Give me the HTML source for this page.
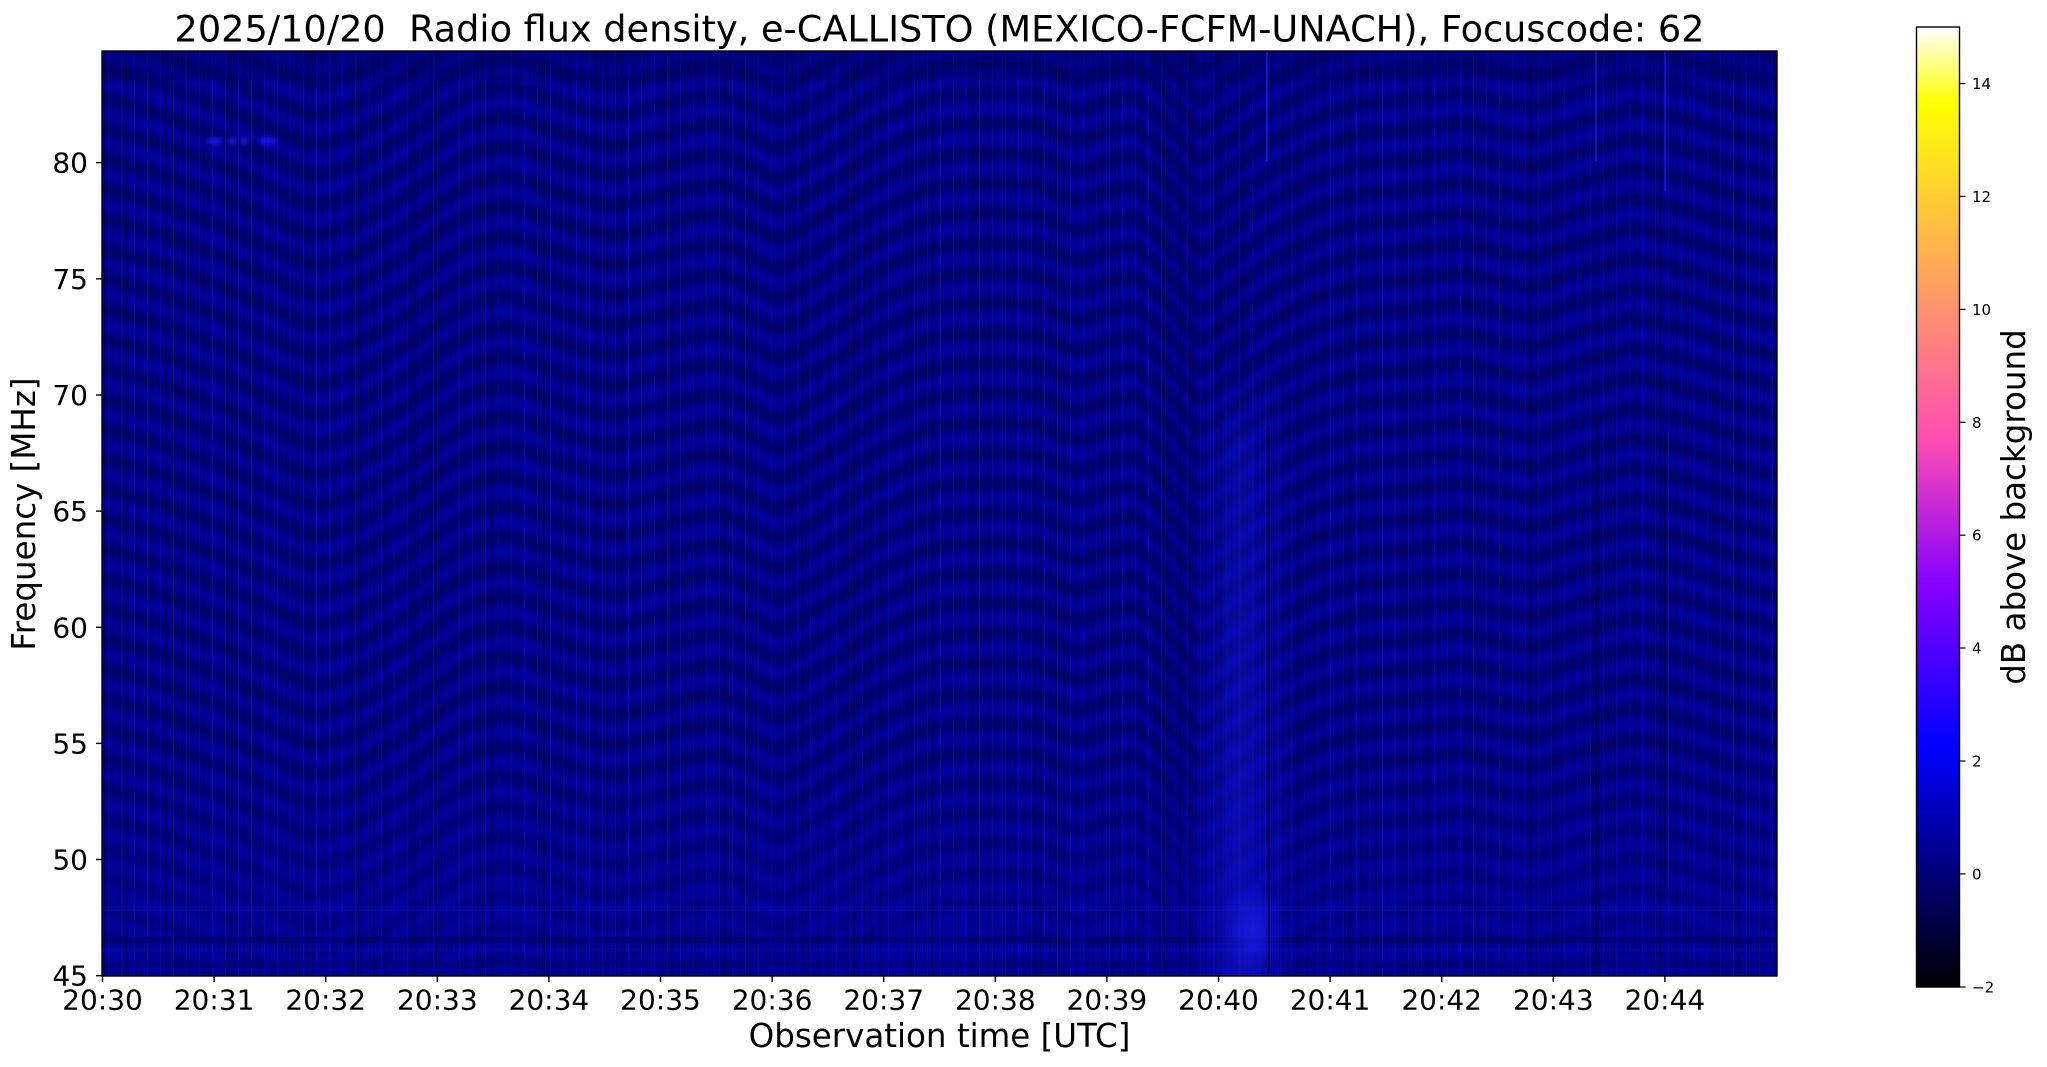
<!DOCTYPE html>
<html>
<head>
<meta charset="utf-8">
<style>
  html,body{margin:0;padding:0;background:#fff;width:2047px;height:1067px;overflow:hidden;}
  svg{display:block;}
</style>
</head>
<body>
<svg width="2047" height="1067" viewBox="0 0 2047 1067" xmlns="http://www.w3.org/2000/svg" xmlns:xlink="http://www.w3.org/1999/xlink" font-family="'DejaVu Sans','Liberation Sans',sans-serif">
  <defs>
    <clipPath id="pc"><rect x="102" y="51" width="1675" height="925"/></clipPath>
    <filter id="bl" x="0" y="0" width="2047" height="1067" filterUnits="userSpaceOnUse"><feGaussianBlur stdDeviation="4"/></filter>
    <filter id="bl3" x="0" y="0" width="2047" height="1067" filterUnits="userSpaceOnUse"><feGaussianBlur stdDeviation="2"/></filter>
    <linearGradient id="cb" x1="0" y1="1" x2="0" y2="0">
      <stop offset="0" stop-color="#000000"/>
      <stop offset="0.25" stop-color="#0000ff"/>
      <stop offset="0.42" stop-color="#8700ff"/>
      <stop offset="0.57" stop-color="#ff4db3"/>
      <stop offset="0.92" stop-color="#ffff00"/>
      <stop offset="1" stop-color="#ffffff"/>
    </linearGradient>
    <linearGradient id="fg" gradientUnits="userSpaceOnUse" x1="0" y1="51" x2="0" y2="976">
      <stop offset="0" stop-color="#999"/>
      <stop offset="0.07" stop-color="#fff"/>
      <stop offset="0.75" stop-color="#eee"/>
      <stop offset="1" stop-color="#444"/>
    </linearGradient>
    <mask id="fm" maskUnits="userSpaceOnUse" x="0" y="0" width="2047" height="1067">
      <rect x="0" y="0" width="2047" height="1067" fill="url(#fg)"/>
    </mask>
    <linearGradient id="glowH" x1="0" y1="0" x2="1" y2="0">
      <stop offset="0" stop-color="#2020ff" stop-opacity="0"/>
      <stop offset="0.45" stop-color="#2020ff" stop-opacity="0.4"/>
      <stop offset="1" stop-color="#2020ff" stop-opacity="0"/>
    </linearGradient>
    <linearGradient id="glowV" x1="0" y1="0" x2="0" y2="1">
      <stop offset="0" stop-color="#fff" stop-opacity="0"/>
      <stop offset="0.15" stop-color="#fff" stop-opacity="0.7"/>
      <stop offset="1" stop-color="#fff" stop-opacity="1"/>
    </linearGradient>
    <radialGradient id="glowB" cx="0.5" cy="0.5" r="0.5">
      <stop offset="0" stop-color="#2424ff" stop-opacity="0.55"/>
      <stop offset="1" stop-color="#2424ff" stop-opacity="0"/>
    </radialGradient>
    <mask id="gm" maskUnits="userSpaceOnUse" x="0" y="0" width="2047" height="1067">
      <rect x="1150" y="360" width="200" height="616" fill="url(#glowV)"/>
    </mask>
    <path id="st" fill="none" stroke="#000040" stroke-width="12" stroke-linejoin="round"
      d="M95,-3 L102,0 L160,16 L220,38 L270,60 L300,73 L313,77 L330,75 L360,64 L400,42 L440,14 L470,-4 L503,-12 L530,-6 L560,5 L600,16 L615,18 L650,10 L690,0 L720,-4 L750,8 L777,22 L800,12 L840,-12 L880,-38 L920,-56 L950,-63 L1000,-65 L1040,-62 L1077,-46 L1105,-56 L1135,-62 L1165,-36 L1200,4 L1230,-18 L1270,-46 L1320,-72 L1360,-84 L1410,-88 L1460,-95 L1500,-86 L1533,-80 L1580,-96 L1633,-110 L1680,-100 L1730,-84 L1777,-72 L1790,-68"/>
    <path id="stb" fill="none" stroke="#000040" stroke-width="12" stroke-linejoin="round"
      d="M1000,-65 L1040,-62 L1077,-46 L1105,-56 L1135,-62 L1165,-36 L1200,4 L1230,-18 L1270,-46 L1320,-72 L1360,-84 L1410,-88 L1460,-95 L1500,-86 L1533,-80 L1580,-96 L1633,-110 L1680,-100 L1730,-84 L1777,-72 L1790,-68"/>
    <path id="stc" fill="none" stroke="#000040" stroke-width="12" stroke-linejoin="round"
      d="M1300,-62 L1320,-72 L1360,-84 L1410,-88 L1460,-95 L1500,-86 L1533,-80 L1580,-96 L1633,-110 L1680,-100 L1730,-84 L1777,-72 L1790,-68"/>
    <pattern id="nz" x="0" y="0" width="31" height="1067" patternUnits="userSpaceOnUse">
      <rect x="2" y="0" width="1" height="1067" fill="#000" opacity=".24"/>
      <rect x="7" y="0" width="1" height="1067" fill="#000" opacity=".14"/>
      <rect x="11" y="0" width="2" height="1067" fill="#000" opacity=".17"/>
      <rect x="17" y="0" width="1" height="1067" fill="#000" opacity=".26"/>
      <rect x="22" y="0" width="1" height="1067" fill="#000" opacity=".12"/>
      <rect x="27" y="0" width="1" height="1067" fill="#000" opacity=".2"/>
    </pattern>
    <pattern id="nz2" x="0" y="0" width="13" height="1067" patternUnits="userSpaceOnUse">
      <rect x="4" y="0" width="1" height="1067" fill="#3030ff" opacity=".14"/>
      <rect x="9" y="0" width="1" height="1067" fill="#000" opacity=".12"/>
    </pattern>
  </defs>

  <rect x="0" y="0" width="2047" height="1067" fill="#fff"/>

  <!-- spectrogram -->
  <g clip-path="url(#pc)">
    <rect x="102" y="51" width="1675" height="925" fill="#00009e"/>
    <g filter="url(#bl)" mask="url(#fm)" opacity="0.58">
      <use xlink:href="#st" href="#st" y="-82"/>
      <use xlink:href="#st" href="#st" y="-52"/>
      <use xlink:href="#st" href="#st" y="-22"/>
      <use xlink:href="#st" href="#st" y="8"/>
      <use xlink:href="#st" href="#st" y="38"/>
      <use xlink:href="#st" href="#st" y="68"/>
      <use xlink:href="#st" href="#st" y="98"/>
      <use xlink:href="#st" href="#st" y="128"/>
      <use xlink:href="#st" href="#st" y="158"/>
      <use xlink:href="#st" href="#st" y="188"/>
      <use xlink:href="#st" href="#st" y="218"/>
      <use xlink:href="#st" href="#st" y="248"/>
      <use xlink:href="#st" href="#st" y="278"/>
      <use xlink:href="#st" href="#st" y="308"/>
      <use xlink:href="#st" href="#st" y="338"/>
      <use xlink:href="#st" href="#st" y="368"/>
      <use xlink:href="#st" href="#st" y="398"/>
      <use xlink:href="#st" href="#st" y="428"/>
      <use xlink:href="#st" href="#st" y="458"/>
      <use xlink:href="#st" href="#st" y="488"/>
      <use xlink:href="#st" href="#st" y="518"/>
      <use xlink:href="#st" href="#st" y="548"/>
      <use xlink:href="#st" href="#st" y="578"/>
      <use xlink:href="#st" href="#st" y="608"/>
      <use xlink:href="#st" href="#st" y="638"/>
      <use xlink:href="#st" href="#st" y="668"/>
      <use xlink:href="#st" href="#st" y="698"/>
      <use xlink:href="#st" href="#st" y="728"/>
      <use xlink:href="#st" href="#st" y="758"/>
      <use xlink:href="#st" href="#st" y="788"/>
      <use xlink:href="#st" href="#st" y="818"/>
      <use xlink:href="#st" href="#st" y="848"/>
      <use xlink:href="#st" href="#st" y="878"/>
      <use xlink:href="#st" href="#st" y="908"/>
      <use xlink:href="#st" href="#st" y="938"/>
      <use xlink:href="#st" href="#st" y="968"/>
      <use xlink:href="#stb" href="#stb" y="998"/>
      <use xlink:href="#stb" href="#stb" y="1028"/>
      <use xlink:href="#stc" href="#stc" y="1058"/>
    </g>
    <!-- vertical noise -->
    <rect x="102" y="51" width="1675" height="925" fill="url(#nz)"/>
    <rect x="102" y="51" width="1675" height="925" fill="url(#nz2)"/>
    <!-- slightly darker top rows -->
    <rect x="102" y="51" width="1675" height="30" fill="#000020" opacity=".15"/>

    <!-- low-frequency horizontal streaks -->
    <rect x="102" y="906" width="1675" height="5" fill="#1a1ad8" opacity=".2"/>
    <rect x="102" y="937" width="1675" height="6" fill="#000020" opacity=".25"/>
    <rect x="102" y="948" width="1675" height="4" fill="#1a1ad8" opacity=".16"/>
    <rect x="102" y="960" width="1675" height="8" fill="#000030" opacity=".15"/>

    <!-- bright dots near 81 MHz -->
    <g fill="#1e1ef0" filter="url(#bl3)" opacity=".8">
      <ellipse cx="215" cy="141" rx="8" ry="4"/>
      <ellipse cx="232" cy="141" rx="5" ry="4"/>
      <ellipse cx="244" cy="141" rx="4" ry="4"/>
      <ellipse cx="268" cy="141" rx="9" ry="4"/>
    </g>

    <!-- burst glow around 20:40:25 -->
    <g mask="url(#gm)">
      <rect x="1190" y="360" width="110" height="616" fill="url(#glowH)"/>
    </g>
    <ellipse cx="1254" cy="930" rx="30" ry="46" fill="url(#glowB)"/>

    <!-- thin vertical lines -->
    <rect x="1266" y="51" width="2" height="110" fill="#2a2aff" opacity=".5"/>
    <rect x="1268" y="427" width="2" height="545" fill="#000010" opacity=".55"/>
    <rect x="1595" y="51" width="2" height="110" fill="#2a2aff" opacity=".45"/>
    <rect x="1595" y="418" width="2" height="555" fill="#000010" opacity=".5"/>
    <rect x="1664" y="51" width="2" height="140" fill="#2a2aff" opacity=".45"/>
    <rect x="1664" y="430" width="2" height="458" fill="#000010" opacity=".5"/>
  </g>

  <!-- axes frame -->
  <rect x="102" y="51" width="1675" height="925" fill="none" stroke="#000" stroke-width="1.4"/>

  <!-- y ticks -->
  <g stroke="#000" stroke-width="1.4">
    <line x1="96" y1="975.7" x2="102" y2="975.7"/>
    <line x1="96" y1="859.5" x2="102" y2="859.5"/>
    <line x1="96" y1="743.4" x2="102" y2="743.4"/>
    <line x1="96" y1="627.3" x2="102" y2="627.3"/>
    <line x1="96" y1="511.1" x2="102" y2="511.1"/>
    <line x1="96" y1="395" x2="102" y2="395"/>
    <line x1="96" y1="278.8" x2="102" y2="278.8"/>
    <line x1="96" y1="162.6" x2="102" y2="162.6"/>
  </g>
  <g font-size="28" text-anchor="end" fill="#000">
    <text x="88" y="985.7">45</text>
    <text x="88" y="869.5">50</text>
    <text x="88" y="753.4">55</text>
    <text x="88" y="637.3">60</text>
    <text x="88" y="521.1">65</text>
    <text x="88" y="405">70</text>
    <text x="88" y="288.8">75</text>
    <text x="88" y="172.6">80</text>
  </g>

  <!-- x ticks -->
  <g stroke="#000" stroke-width="1.4">
    <line x1="102.5" y1="976" x2="102.5" y2="982"/>
    <line x1="214.1" y1="976" x2="214.1" y2="982"/>
    <line x1="325.7" y1="976" x2="325.7" y2="982"/>
    <line x1="437.3" y1="976" x2="437.3" y2="982"/>
    <line x1="548.9" y1="976" x2="548.9" y2="982"/>
    <line x1="660.5" y1="976" x2="660.5" y2="982"/>
    <line x1="772.1" y1="976" x2="772.1" y2="982"/>
    <line x1="883.7" y1="976" x2="883.7" y2="982"/>
    <line x1="995.3" y1="976" x2="995.3" y2="982"/>
    <line x1="1106.9" y1="976" x2="1106.9" y2="982"/>
    <line x1="1218.5" y1="976" x2="1218.5" y2="982"/>
    <line x1="1330.1" y1="976" x2="1330.1" y2="982"/>
    <line x1="1441.7" y1="976" x2="1441.7" y2="982"/>
    <line x1="1553.3" y1="976" x2="1553.3" y2="982"/>
    <line x1="1664.9" y1="976" x2="1664.9" y2="982"/>
  </g>
  <g font-size="28" text-anchor="middle" fill="#000">
    <text x="102.5" y="1009.5">20:30</text>
    <text x="214.1" y="1009.5">20:31</text>
    <text x="325.7" y="1009.5">20:32</text>
    <text x="437.3" y="1009.5">20:33</text>
    <text x="548.9" y="1009.5">20:34</text>
    <text x="660.5" y="1009.5">20:35</text>
    <text x="772.1" y="1009.5">20:36</text>
    <text x="883.7" y="1009.5">20:37</text>
    <text x="995.3" y="1009.5">20:38</text>
    <text x="1106.9" y="1009.5">20:39</text>
    <text x="1218.5" y="1009.5">20:40</text>
    <text x="1330.1" y="1009.5">20:41</text>
    <text x="1441.7" y="1009.5">20:42</text>
    <text x="1553.3" y="1009.5">20:43</text>
    <text x="1664.9" y="1009.5">20:44</text>
  </g>

  <!-- title and labels -->
  <text x="939.5" y="41.5" font-size="36.6" text-anchor="middle" style="white-space:pre" textLength="1530" lengthAdjust="spacingAndGlyphs">2025/10/20  Radio flux density, e-CALLISTO (MEXICO-FCFM-UNACH), Focuscode: 62</text>
  <text x="939.5" y="1047" font-size="32.5" text-anchor="middle">Observation time [UTC]</text>
  <text transform="translate(35,514) rotate(-90)" font-size="32.5" text-anchor="middle">Frequency [MHz]</text>

  <!-- colorbar -->
  <rect x="1916.5" y="27" width="43" height="960" fill="url(#cb)"/>
  <rect x="1916.5" y="27" width="43" height="960" fill="none" stroke="#000" stroke-width="1.4"/>
  <g stroke="#000" stroke-width="1.2">
    <line x1="1959.5" y1="987" x2="1965.5" y2="987"/>
    <line x1="1959.5" y1="873.9" x2="1965.5" y2="873.9"/>
    <line x1="1959.5" y1="761" x2="1965.5" y2="761"/>
    <line x1="1959.5" y1="648" x2="1965.5" y2="648"/>
    <line x1="1959.5" y1="535.2" x2="1965.5" y2="535.2"/>
    <line x1="1959.5" y1="422.3" x2="1965.5" y2="422.3"/>
    <line x1="1959.5" y1="309.4" x2="1965.5" y2="309.4"/>
    <line x1="1959.5" y1="196.4" x2="1965.5" y2="196.4"/>
    <line x1="1959.5" y1="83.5" x2="1965.5" y2="83.5"/>
  </g>
  <g font-size="15" fill="#000">
    <text x="1972" y="992.5">−2</text>
    <text x="1972" y="879.4">0</text>
    <text x="1972" y="766.5">2</text>
    <text x="1972" y="653.5">4</text>
    <text x="1972" y="540.7">6</text>
    <text x="1972" y="427.8">8</text>
    <text x="1972" y="314.9">10</text>
    <text x="1972" y="201.9">12</text>
    <text x="1972" y="89">14</text>
  </g>
  <text transform="translate(2025,507) rotate(-90)" font-size="32.5" text-anchor="middle">dB above background</text>
</svg>
</body>
</html>
